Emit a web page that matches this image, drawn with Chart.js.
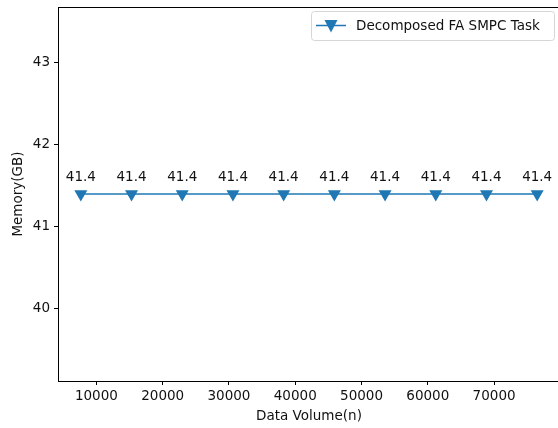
<!DOCTYPE html>
<html>
<head>
<meta charset="utf-8">
<script src="https://cdn.jsdelivr.net/npm/chart.js@4.4.0/dist/chart.umd.min.js"></script>
<style>
  html, body { margin: 0; padding: 0; background: #fff; overflow: hidden; }
  #chart { position: absolute; left: 0; top: 0; }
</style>
</head>
<body>
<canvas id="chart" width="562" height="428"></canvas>
<script>
// data
const dataVolume = [7650, 15300, 22950, 30600, 38250, 45900, 53550, 61200, 68850, 76500];
const memoryGB = [41.4, 41.4, 41.4, 41.4, 41.4, 41.4, 41.4, 41.4, 41.4, 41.4];
const xTicks = [10000, 20000, 30000, 40000, 50000, 60000, 70000];
const yTicks = [40, 41, 42, 43];
const seriesName = 'Decomposed FA SMPC Task';

const blue = '#1f77b4';
const font = "'DejaVu Sans', sans-serif";

// value labels, top spine, axis titles
const extras = {
  id: 'extras',
  afterDatasetsDraw(chart) {
    const ctx = chart.ctx;
    const a = chart.chartArea;
    const meta = chart.getDatasetMeta(0);
    ctx.save();
    // the right spine sits outside the cropped picture: keep that strip blank
    ctx.fillStyle = '#fff';
    ctx.fillRect(555, 0, 10, a.bottom - 1);
    ctx.fillStyle = '#111';
    ctx.font = '13.5px ' + font;
    ctx.textAlign = 'center';
    ctx.textBaseline = 'middle';
    meta.data.forEach((pt, i) => {
      ctx.fillText(memoryGB[i].toFixed(1), pt.x, pt.y - 16.5);
    });
    // top spine
    ctx.strokeStyle = '#000';
    ctx.lineWidth = 1;
    ctx.beginPath();
    ctx.moveTo(a.left, Math.round(a.top) + 0.5);
    ctx.lineTo(a.right, Math.round(a.top) + 0.5);
    ctx.stroke();
    // axis titles
    ctx.fillStyle = '#111';
    ctx.fillText('Data Volume(n)', (a.left + a.right) / 2, 416);
    ctx.translate(18, (a.top + a.bottom) / 2);
    ctx.rotate(-Math.PI / 2);
    ctx.fillText('Memory(GB)', 0, 0);
    ctx.restore();
  }
};

// matplotlib-like legend box
const boxLegend = {
  id: 'boxLegend',
  afterDraw(chart) {
    const ctx = chart.ctx;
    const x = 311, y = 11, w = 243, h = 29;
    ctx.save();
    ctx.beginPath();
    ctx.roundRect(x + 0.5, y + 0.5, w, h, 3);
    ctx.fillStyle = 'rgba(255,255,255,0.8)';
    ctx.fill();
    ctx.strokeStyle = '#d6d6d6';
    ctx.lineWidth = 1;
    ctx.stroke();
    const cy = y + h / 2;
    ctx.beginPath();
    ctx.moveTo(x + 5, cy);
    ctx.lineTo(x + 35, cy);
    ctx.strokeStyle = blue;
    ctx.lineWidth = 1.5;
    ctx.stroke();
    const mx = x + 20;
    ctx.beginPath();
    ctx.moveTo(mx - 6.5, cy - 5.5);
    ctx.lineTo(mx + 6.5, cy - 5.5);
    ctx.lineTo(mx, cy + 7);
    ctx.closePath();
    ctx.fillStyle = blue;
    ctx.fill();
    ctx.fillStyle = '#111';
    ctx.font = '13.5px ' + font;
    ctx.textBaseline = 'middle';
    ctx.fillText(seriesName, x + 45, cy + 1);
    ctx.restore();
  }
};

new Chart(document.getElementById('chart'), {
  type: 'line',
  data: {
    datasets: [{
      label: seriesName,
      data: dataVolume.map((v, i) => ({ x: v, y: memoryGB[i] })),
      borderColor: blue,
      backgroundColor: blue,
      borderWidth: 1.5,
      pointStyle: 'triangle',
      rotation: 180,
      pointRadius: 7.5,
      pointHoverRadius: 7.5,
      pointBorderWidth: 0,
      tension: 0
    }]
  },
  options: {
    responsive: false,
    animation: false,
    layout: { autoPadding: false, padding: { top: 7, right: 2, left: 0, bottom: 0 } },
    plugins: {
      legend: { display: false },
      tooltip: { enabled: false }
    },
    scales: {
      x: {
        type: 'linear',
        min: 4207.5,
        max: 79942.5,
        afterBuildTicks: s => { s.ticks = xTicks.map(v => ({ value: v })); },
        afterFit: s => { s.height = 47; s.paddingLeft = 0; s.paddingRight = 0; },
        grid: { drawOnChartArea: false, tickLength: 4, color: '#000' },
        border: { color: '#000', width: 1 },
        ticks: { color: '#111', font: { family: font, size: 13.5 }, padding: 3, maxRotation: 0,
                 callback: v => String(v) }
      },
      y: {
        min: 39.12,
        max: 43.68,
        afterBuildTicks: s => { s.ticks = yTicks.map(v => ({ value: v })); },
        afterFit: s => { s.width = 58; s.paddingTop = 0; s.paddingBottom = 0; },
        grid: { drawOnChartArea: false, tickLength: 4, color: '#000' },
        border: { color: '#000', width: 1 },
        ticks: { color: '#111', font: { family: font, size: 13.5 }, padding: 4,
                 callback: v => String(v) }
      }
    }
  },
  plugins: [extras, boxLegend]
});
</script>
</body>
</html>
